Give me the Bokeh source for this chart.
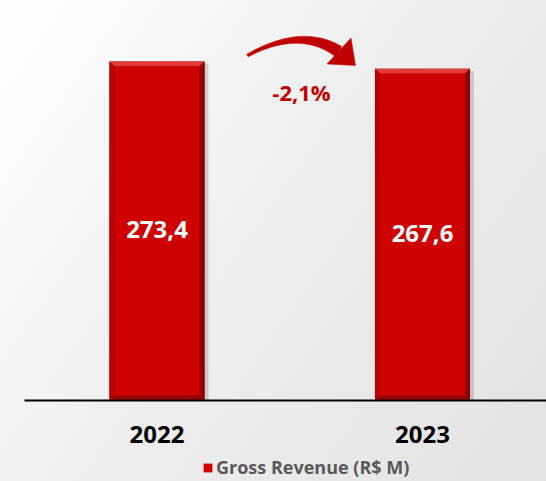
from bokeh.plotting import figure
from bokeh.models import Range1d, Legend, LegendItem
from bokeh.core.properties import value
from bokeh.embed import file_html
from bokeh.resources import INLINE
import numpy as np

# ---- data ----
years = ["2022", "2023"]
revenue = [273.4, 267.6]
value_labels = ["273,4", "267,6"]
change_label = "-2,1%"
legend_label = "Gross Revenue (R$ M)"

# ---- layout (page px -> data) ----
W, H = 546, 481
SX = 265.5          # px per category step
SY = 1.2397         # px per R$ M
BASE_PX = 400       # page y of zero line
C1_PX = 156.5       # page x of first bar centre
X0 = 1 - C1_PX / SX
X1 = X0 + W / SX
Y1 = BASE_PX / SY
Y0 = -(H - BASE_PX) / SY
BAR_W = 0.358

def to_data(px, py):
    """page pixel -> data coords (decoration helpers)"""
    return X0 + px / SX, (BASE_PX - py) / SY

xs = list(range(1, len(years) + 1))

p = figure(width=W, height=H, x_range=Range1d(X0, X1), y_range=Range1d(Y0, Y1),
           output_backend="svg", toolbar_location=None,
           min_border=0)
p.background_fill_alpha = 0
p.border_fill_alpha = 0
p.outline_line_color = None
p.styles = {"background-image": "linear-gradient(125deg, #ffffff 0%, #efefef 45%, #e2e2e2 100%)"}
p.xgrid.visible = False
p.ygrid.visible = False
p.axis.visible = False

bx = 5 / SX
by = 5 / SY
for x, v in zip(xs, revenue):
    L, R, T, B = x - BAR_W / 2, x + BAR_W / 2, v, 0
    # shadow
    p.quad(left=L + 2 / SX, right=R + 4 / SX, top=T - 2 / SY, bottom=B,
           fill_color="#8a8a8a", fill_alpha=0.35, line_color=None)
    # outer dark
    p.quad(left=L, right=R, top=T, bottom=B, fill_color="#7e0000", line_color=None)
    # top bevel (light)
    p.patch([L, R, R - bx, L + bx], [T, T, T - by, T - by], fill_color="#e23a3a", line_color=None)
    # left bevel
    p.patch([L, L + bx, L + bx, L], [T, T - by, B + by, B], fill_color="#bb0000", line_color=None)
    # right bevel (dark)
    p.patch([R, R, R - bx, R - bx], [T, B, B + by, T - by], fill_color="#8e0000", line_color=None)
    # bottom bevel
    p.patch([L, R, R - bx, L + bx], [B, B, B + by, B + by], fill_color="#960000", line_color=None)

face = p.quad(left=[x - BAR_W / 2 + bx for x in xs], right=[x + BAR_W / 2 - bx for x in xs],
              top=[v - by for v in revenue], bottom=[by] * len(xs),
              fill_color="#cf0000", line_color=None)

p.text(x=xs, y=[v / 2 + 1 for v in revenue], text=value_labels,
       text_font=value("Open Sans"), text_font_style="bold", text_font_size="24px",
       text_color="white", text_align="center", text_baseline="middle")

# ---- zero line (axis) ----
lx0, _ = to_data(24, BASE_PX)
p.segment(x0=[lx0], y0=[0], x1=[X1], y1=[0], line_color="black", line_width=2)

# ---- category labels ----
_, ylab = to_data(0, 434)
p.text(x=xs, y=[ylab] * len(xs), text=years,
       text_font=value("Open Sans"), text_font_style="bold", text_font_size="24px",
       text_color="black", text_align="center", text_baseline="middle")

# ---- curved arrow (decoration) ----
P0 = np.array([247.0, 55.0]); P1 = np.array([300.0, 26.0]); P2 = np.array([338.0, 51.0])
t = np.linspace(0, 1, 40)
pts = ((1 - t) ** 2)[:, None] * P0 + (2 * t * (1 - t))[:, None] * P1 + (t ** 2)[:, None] * P2
d = (-2 * (1 - t))[:, None] * P0 + (2 - 4 * t)[:, None] * P1 + (2 * t)[:, None] * P2
n = np.stack([-d[:, 1], d[:, 0]], axis=1)
n /= np.linalg.norm(n, axis=1)[:, None]
th = (1.5 + 4.5 * t ** 1.3)[:, None]
upper = pts - n * th
lower = pts + n * th
poly = np.vstack([upper, lower[::-1]])
ax_d, ay_d = zip(*[to_data(px, py) for px, py in poly])
p.patch(list(ax_d), list(ay_d), fill_color="#c00000", line_color="#c00000", line_width=0.5)
head = [(350.5, 37.5), (355.0, 65.0), (326.5, 63.5)]
hx, hy = zip(*[to_data(px, py) for px, py in head])
p.patch(list(hx), list(hy), fill_color="#c00000", line_color="#c00000", line_width=0.5)

cx, cy = to_data(301, 91)
p.text(x=[cx], y=[cy], text=[change_label], text_font=value("Open Sans"), text_font_style="bold",
       text_font_size="22px", text_color="#c00000", text_align="center", text_baseline="middle")

legend = Legend(items=[LegendItem(label=legend_label, renderers=[face])],
                orientation="horizontal", location=(202, 2),
                label_text_font="Open Sans", label_text_font_style="bold",
                label_text_font_size="18px", label_text_color="#595959",
                glyph_width=11, glyph_height=11, label_standoff=3,
                border_line_color=None, background_fill_alpha=0,
                padding=0, margin=0, spacing=0)
p.add_layout(legend, "center")

open("out.html", "w").write(file_html(p, INLINE))
